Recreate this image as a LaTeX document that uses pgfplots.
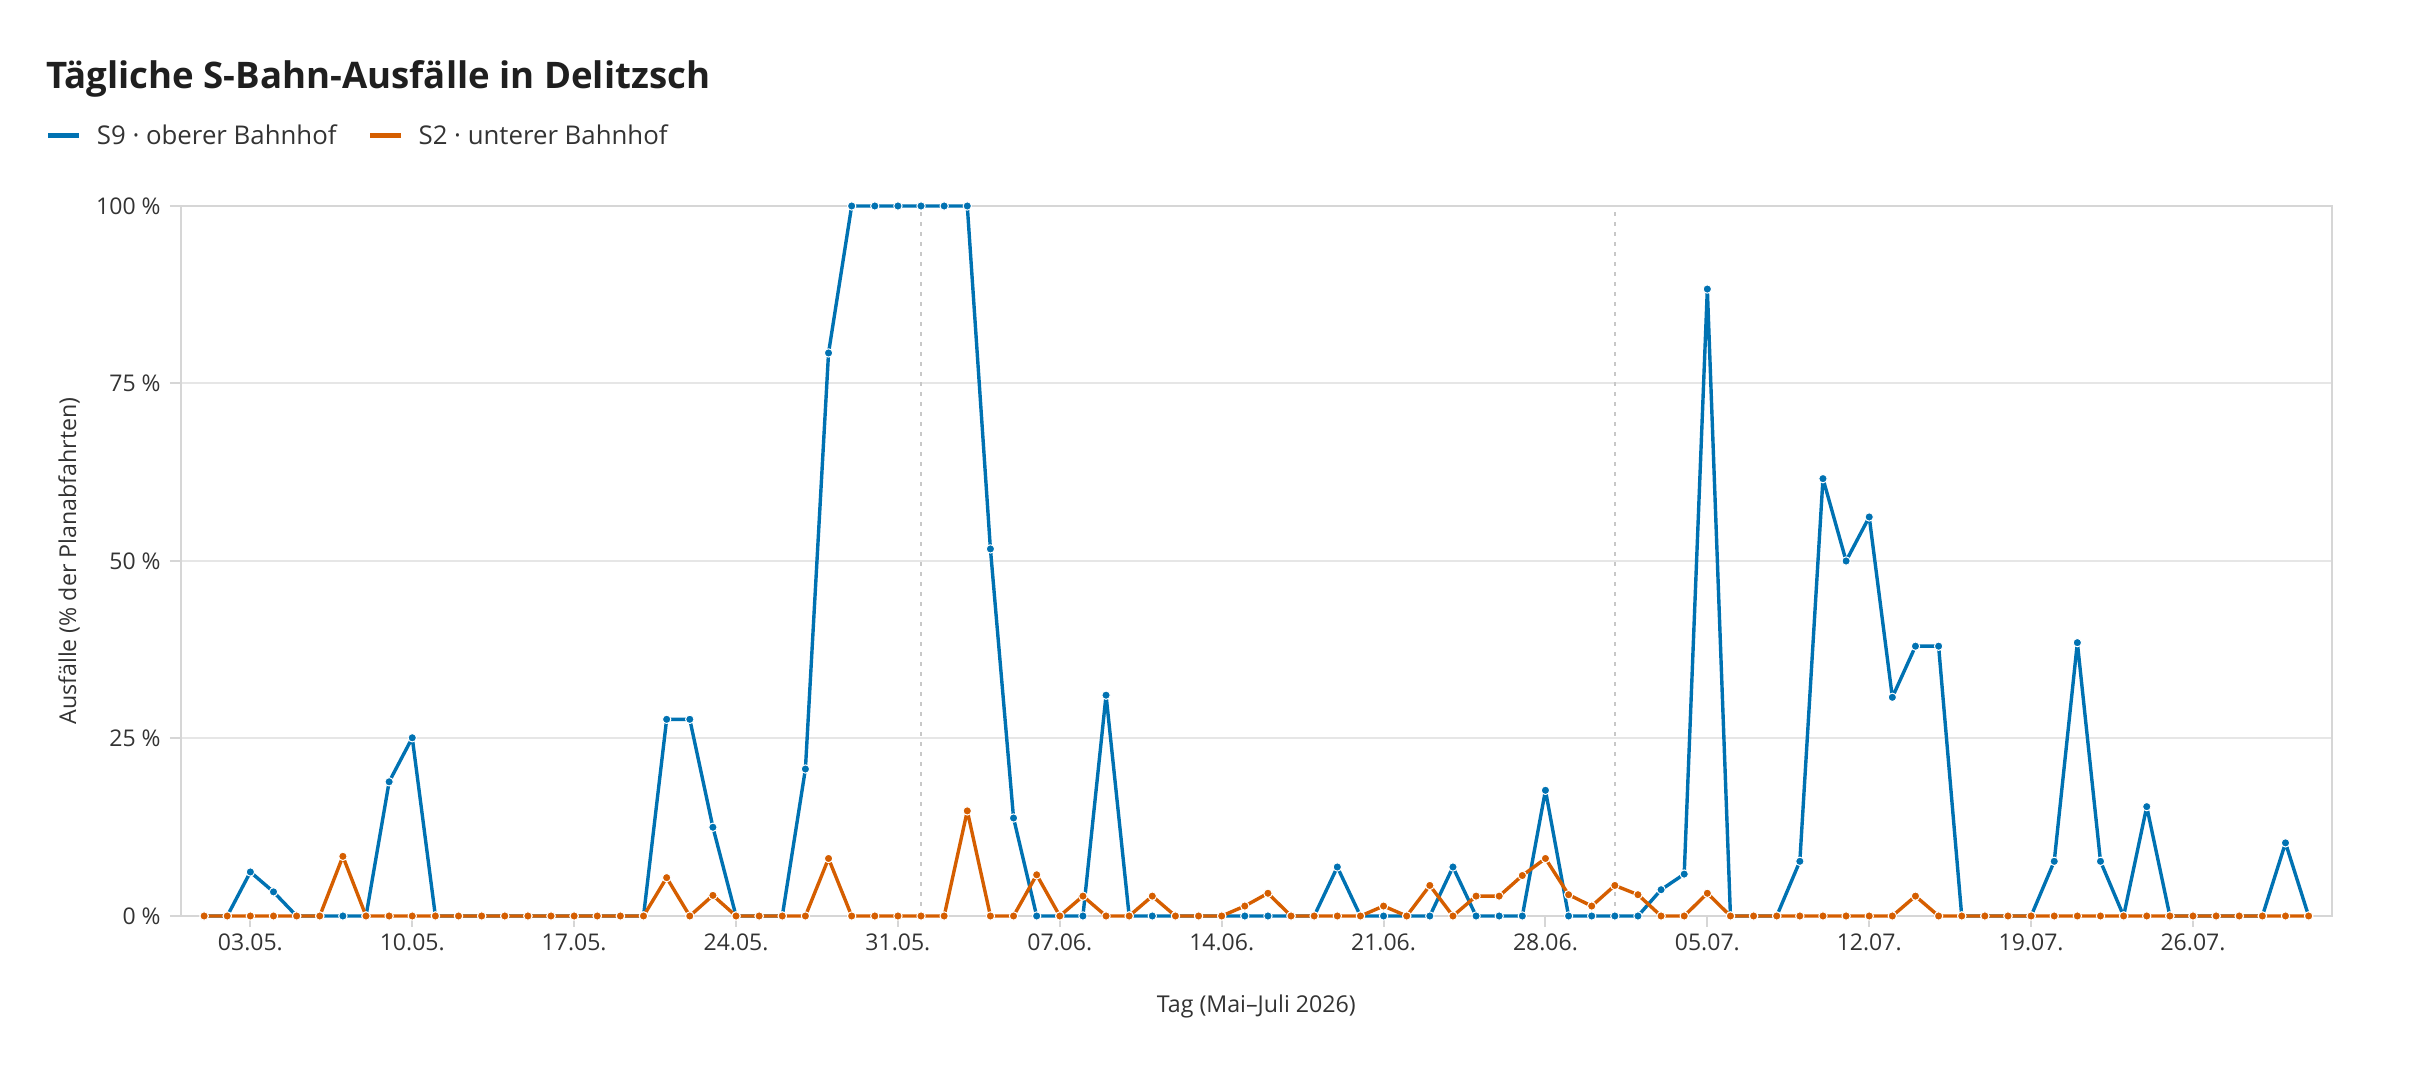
\documentclass[border=0pt]{standalone}
\usepackage{fontspec}
\setmainfont{Open Sans}
\usepackage{pgfplots}
\pgfplotsset{compat=1.18}
\usepackage{pgfplotstable}
\definecolor{sblue}{HTML}{0072B2}
\definecolor{sorange}{HTML}{D55E00}
\definecolor{txt}{HTML}{333333}
\definecolor{gridc}{HTML}{E6E6E6}
\definecolor{framec}{HTML}{D6D6D6}
\definecolor{monthc}{HTML}{C8C8C8}

\pgfplotstableread{
d s9 s2
0 0 0
1 0 0
2 6.2 0
3 3.4 0
4 0 0
5 0 0
6 0 8.4
7 0 0
8 18.9 0
9 25.1 0
10 0 0
11 0 0
12 0 0
13 0 0
14 0 0
15 0 0
16 0 0
17 0 0
18 0 0
19 0 0
20 27.7 5.4
21 27.7 0
22 12.5 2.9
23 0 0
24 0 0
25 0 0
26 20.7 0
27 79.3 8.1
28 100 0
29 100 0
30 100 0
31 100 0
32 100 0
33 100 14.8
34 51.7 0
35 13.8 0
36 0 5.8
37 0 0
38 0 2.8
39 31.1 0
40 0 0
41 0 2.8
42 0 0
43 0 0
44 0 0
45 0 1.4
46 0 3.2
47 0 0
48 0 0
49 6.9 0
50 0 0
51 0 1.4
52 0 0
53 0 4.3
54 6.9 0
55 0 2.8
56 0 2.8
57 0 5.7
58 17.7 8.1
59 0 3.0
60 0 1.4
61 0 4.3
62 0 3.0
63 3.7 0
64 5.9 0
65 88.3 3.2
66 0 0
67 0 0
68 0 0
69 7.7 0
70 61.6 0
71 50.0 0
72 56.2 0
73 30.8 0
74 38.0 2.8
75 38.0 0
76 0 0
77 0 0
78 0 0
79 0 0
80 7.7 0
81 38.5 0
82 7.7 0
83 0 0
84 15.4 0
85 0 0
86 0 0
87 0 0
88 0 0
89 0 0
90 10.3 0
91 0 0
}\datatable

\begin{document}
\begin{tikzpicture}
\path[use as bounding box] (0,0) rectangle (1208pt,540pt);
\node[anchor=base west, inner sep=0pt, font=\fontsize{18.3}{21}\selectfont\bfseries, text=black!88] at (23pt,495.5pt) {Tägliche S-Bahn-Ausfälle in Delitzsch};
\begin{axis}[
  at={(90.5pt,82pt)}, anchor=south west,
  scale only axis, width=1075.5pt, height=355pt,
  xmin=-1, xmax=92, ymin=0, ymax=100,
  clip=false,
  axis line style={framec, line width=1.2pt},
  xtick={2,9,16,23,30,37,44,51,58,65,72,79,86},
  xticklabels={03.05.,10.05.,17.05.,24.05.,31.05.,07.06.,14.06.,21.06.,28.06.,05.07.,12.07.,19.07.,26.07.},
  ytick={0,25,50,75,100},
  yticklabels={0 \%,25 \%,50 \%,75 \%,100 \%},
  ymajorgrids,
  grid style={gridc, line width=1pt},
  tick align=outside,
  major tick length=5.5pt,
  xtick pos=lower, ytick pos=left,
  tick style={framec, line width=1pt},
  ticklabel style={font=\fontsize{11.5}{13}\selectfont, text=txt},
  yticklabel style={inner sep=4.5pt},
  xticklabel style={inner sep=3pt},
  extra x ticks={31,61},
  extra x tick labels={},
  extra x tick style={grid=major, major tick length=0pt, major grid style={monthc, line width=0.9pt, dash pattern=on 2pt off 3pt}},
  xlabel={Tag (Mai–Juli 2026)},
  ylabel={Ausfälle (\% der Planabfahrten)},
  xlabel style={at={(axis description cs:0.5,-0.128)}, anchor=center, font=\fontsize{11.6}{13}\selectfont, text=txt},
  ylabel style={at={(axis description cs:-0.052,0.5)}, anchor=center, font=\fontsize{11.6}{13}\selectfont, text=txt},
  legend columns=2,
  legend style={draw=none, fill=none, inner sep=0pt, outer sep=0pt,
    at={(axis description cs:-0.0628,1.0986)}, anchor=west,
    nodes={inner sep=0pt, anchor=west},
    font=\fontsize{12.9}{15}\selectfont, text=txt,
    /tikz/every odd column/.style={column sep=7.5pt},
    /tikz/every even column/.style={column sep=15.5pt}},
  legend image code/.code={\draw[mark=none, line width=2.5pt] (0pt,0pt) -- (15.5pt,0pt);},
]
\addplot[sblue, line width=1.7pt, line join=round, mark=*, mark size=2.1pt, mark options={fill=sblue, draw=white, line width=0.5pt}] table[x=d, y=s9] {\datatable};
\addplot[sorange, line width=1.7pt, line join=round, mark=*, mark size=2.1pt, mark options={fill=sorange, draw=white, line width=0.5pt}] table[x=d, y=s2] {\datatable};
\legend{S9 · oberer Bahnhof, S2 · unterer Bahnhof}
\end{axis}
\end{tikzpicture}
\end{document}
